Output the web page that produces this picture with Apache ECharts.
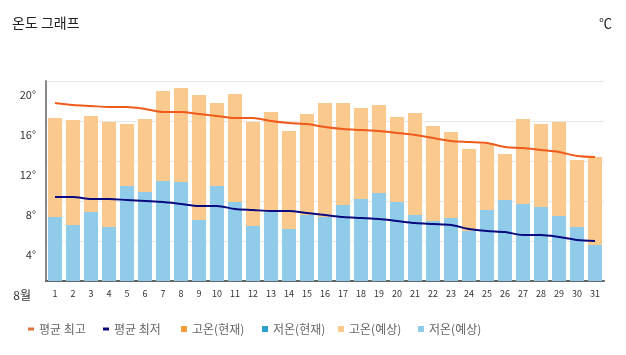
<!DOCTYPE html>
<html>
<head>
<meta charset="utf-8">
<script src="https://cdn.jsdelivr.net/npm/echarts@6/dist/echarts.min.js"></script>
<style>
html,body{margin:0;padding:0;background:#fff;}
#c{width:626px;height:355px;}
</style>
</head>
<body>
<div id="c"></div>
<script>
var days = ['1','2','3','4','5','6','7','8','9','10','11','12','13','14','15','16','17','18','19','20','21','22','23','24','25','26','27','28','29','30','31'];
var yTicks = [0, 4, 8, 12, 16, 20];
var monthLabel = '8월';
var highCurrent = [];
var lowCurrent = [];
var highForecast = [16.3,16.1,16.5,15.9,15.7,16.2,19.0,19.3,18.6,17.8,18.7,15.9,16.9,15.0,16.7,17.8,17.8,17.3,17.6,16.4,16.8,15.5,14.9,13.2,13.7,12.7,16.2,15.7,15.9,12.1,12.4];
var lowForecast = [6.4,5.6,6.9,5.4,9.5,8.9,10.0,9.9,6.1,9.5,7.9,5.5,6.9,5.2,6.6,6.4,7.6,8.2,8.8,7.9,6.6,6.0,6.3,5.0,7.1,8.1,7.7,7.4,6.5,5.4,3.6];
var avgMax = [17.8,17.6,17.5,17.4,17.4,17.2,16.9,16.9,16.7,16.5,16.3,16.3,16.0,15.8,15.7,15.4,15.2,15.1,15.0,14.8,14.6,14.3,14.0,13.9,13.8,13.4,13.3,13.1,12.9,12.5,12.4];
var avgMin = [8.4,8.4,8.2,8.2,8.1,8.0,7.9,7.7,7.5,7.5,7.2,7.1,7.0,7.0,6.8,6.6,6.4,6.3,6.2,6.0,5.8,5.7,5.6,5.2,5.0,4.9,4.6,4.6,4.4,4.1,4.0];

var legendNames = ['평균 최고', '평균 최저', '고온(현재)', '저온(현재)', '고온(예상)', '저온(예상)'];
var legendLeft = [23, 98, 176, 257, 333, 413];

var FONT = '"Noto Sans CJK KR", "Noto Sans", sans-serif';
var legends = legendNames.map(function (n, i) {
  var isLine = i < 2;
  return {
    left: legendLeft[i], top: 318,
    itemWidth: 6, itemHeight: isLine ? 3 : 6,
    icon: 'rect',
    textStyle: {fontSize: 12, color: '#666', fontFamily: FONT},
    data: [n]
  };
});

var chart = echarts.init(document.getElementById('c'), null, {renderer: 'canvas'});
chart.setOption({
  animation: false,
  textStyle: {fontFamily: FONT},
  title: [
    {text: '온도 그래프', left: 7, top: 11, textStyle: {fontSize: 14, fontWeight: 'normal', color: '#222', fontFamily: FONT}},
    {text: '℃', right: 9, top: 12, textStyle: {fontSize: 13, fontWeight: 'normal', color: '#222', fontFamily: FONT}}
  ],
  legend: legends,
  grid: {left: 46, right: 22, top: 81, bottom: 74, containLabel: false},
  xAxis: {
    type: 'category',
    data: days,
    boundaryGap: true,
    axisLine: {show: true, lineStyle: {color: '#666', width: 2}},
    axisTick: {show: false},
    axisLabel: {fontSize: 9, color: '#333', margin: 8, interval: 0}
  },
  yAxis: {
    type: 'value',
    min: yTicks[0], max: yTicks[yTicks.length - 1], interval: 4,
    axisLine: {show: true, lineStyle: {color: '#888', width: 2}},
    axisTick: {show: false},
    splitLine: {show: true, lineStyle: {color: '#e8e8e8', width: 1}},
    axisLabel: {
      fontSize: 11, color: '#333', margin: 10, verticalAlign: 'top', padding: [8, 0, 0, 0],
      formatter: function (v) { return v === 0 ? '{m|' + monthLabel + '}' : v + '°'; },
      rich: {m: {fontSize: 12, color: '#333', padding: [0, 5, 0, 0]}}
    }
  },
  series: [
    {name: '고온(현재)', type: 'bar', data: highCurrent, itemStyle: {color: '#f39c3c'}, barGap: '-100%', barCategoryGap: '22%'},
    {name: '저온(현재)', type: 'bar', data: lowCurrent, itemStyle: {color: '#2c9fcf'}, barGap: '-100%', barCategoryGap: '22%'},
    {name: '고온(예상)', type: 'bar', data: highForecast, itemStyle: {color: '#f9c98e'}, barGap: '-100%', barCategoryGap: '22%', z: 2},
    {name: '저온(예상)', type: 'bar', data: lowForecast, itemStyle: {color: '#90cbea'}, barGap: '-100%', barCategoryGap: '22%', z: 3},
    {name: '평균 최고', type: 'line', data: avgMax, smooth: 0.3, showSymbol: false, symbol: 'none',
      lineStyle: {color: '#f05a1a', width: 2}, itemStyle: {color: '#e0703a'}, z: 5},
    {name: '평균 최저', type: 'line', data: avgMin, smooth: 0.3, showSymbol: false, symbol: 'none',
      lineStyle: {color: '#0a0a80', width: 2}, itemStyle: {color: '#0a0a80'}, z: 5}
  ]
});
</script>
</body>
</html>
